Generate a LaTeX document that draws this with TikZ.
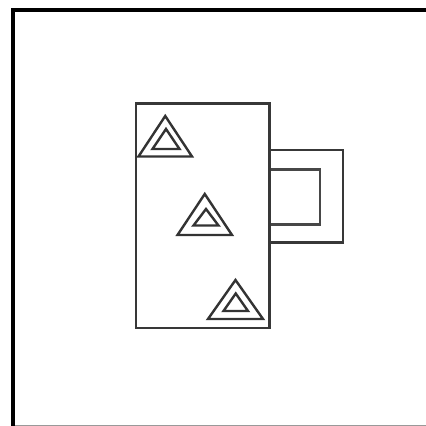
\documentclass[tikz,border=0pt]{standalone}
\tikzset{
  shape line/.style={draw=black!78,line width=2.1pt,line join=miter},
  tri line/.style={draw=black!80,line width=2.4pt,line join=miter},
  inner line/.style={draw=black!72,line width=2.1pt,line join=miter},
  thick line/.style={draw=black!78,line width=2.8pt},
  frame line/.style={draw=black,line width=3.6pt},
  left line/.style={draw=black,line width=4.4pt},
  base line/.style={draw=black!40,line width=1.2pt}
}
\newcommand{\tri}[8]{%
  \draw[tri line] (#1,#3) -- (#2,#3) -- ({(#1+#2)/2},#4) -- cycle;
  \draw[tri line] (#5,#7) -- (#6,#7) -- ({(#5+#6)/2},#8) -- cycle;
}
\begin{document}
\begin{tikzpicture}[x=1pt,y=-1pt]
\useasboundingbox (0,0) rectangle (426,426);
\fill[white] (0,0) rectangle (426,426);
\draw[base line] (14,425.4) -- (426,425.4);
\draw[frame line] (426,10) -- (11.2,10);
\draw[left line] (13,8.2) -- (13,426);
\draw[shape line] (269.5,150.3) -- (343,150.3);
\draw[thick line] (343,149.2) -- (343,242.6) -- (269.5,242.6);
\draw[inner line] (269.5,169.5) -- (320,169.5) -- (320,224.5) -- (269.5,224.5);
\draw[shape line] (136,103.5) rectangle (269.5,328);
\tri{138.5}{192}{156.5}{116}{152.5}{179.5}{149}{129}
\tri{177.5}{232}{235}{194}{193.5}{218.5}{225.5}{209}
\tri{208}{263}{319}{280}{223.5}{248}{311}{293.5}
\end{tikzpicture}
\end{document}
